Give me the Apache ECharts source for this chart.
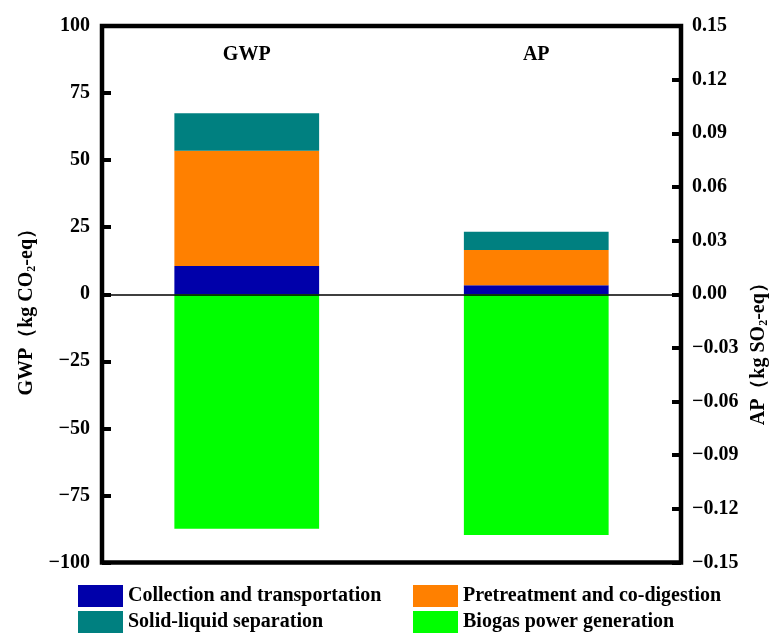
<!DOCTYPE html>
<html>
<head>
<meta charset="utf-8">
<script src="https://cdn.jsdelivr.net/npm/echarts@6/dist/echarts.min.js"></script>
<style>html,body{margin:0;padding:0;background:#fff}#c{width:772px;height:633px}</style>
</head>
<body>
<div id="c"></div>
<script>
var categories = ['GWP', 'AP'];
var seriesNames = ['Collection and transportation', 'Pretreatment and co-digestion', 'Solid-liquid separation', 'Biogas power generation'];
var colors = ['#0000AA', '#FF8000', '#008080', '#00FF00'];
var gwpValues = [10.5, 43.0, 14.0, -87.4];
var apValues = [0.005, 0.0197, 0.0103, -0.1346];
var gwpTicks = { min: -100, max: 100, interval: 25 };
var apTicks = { min: -0.15, max: 0.15, interval: 0.03 };

var FONT = '"Liberation Serif", "Times New Roman", serif';
function minus(s) { return String(s).replace('-', '\u2212'); }

var series = [];
seriesNames.forEach(function (n, i) {
  series.push({
    name: n, type: 'bar', xAxisIndex: 0, yAxisIndex: 0, stack: 'gwp',
    barWidth: '50%', itemStyle: { color: colors[i] },
    data: [gwpValues[i], '-']
  });
  series.push({
    name: n, type: 'bar', xAxisIndex: 1, yAxisIndex: 1, stack: 'ap',
    barWidth: '50%', itemStyle: { color: colors[i] },
    data: ['-', apValues[i]]
  });
});

var chart = echarts.init(document.getElementById('c'));
var legendCommon = {
  orient: 'vertical', top: 585, height: 80, itemWidth: 45, itemHeight: 22, itemGap: 4,
  icon: 'rect', padding: 0,
  textStyle: { fontFamily: FONT, fontWeight: 'bold', fontSize: 20, color: '#000' }
};
chart.setOption({
  animation: false,
  textStyle: { fontFamily: FONT },
  grid: { left: 102, right: 91, top: 26, bottom: 70.5, outerBoundsMode: 'none', containLabel: false,
    show: true, borderColor: '#000', borderWidth: 4.5, backgroundColor: 'transparent' },
  legend: [
    Object.assign({ left: 78, data: [seriesNames[0], seriesNames[2]] }, legendCommon),
    Object.assign({ left: 413, data: [seriesNames[1], seriesNames[3]] }, legendCommon)
  ],
  xAxis: [
    { type: 'category', data: categories, position: 'bottom', z: 10,
      axisLine: { show: true, onZero: true, lineStyle: { color: '#000', width: 1.5 } },
      axisTick: { show: false }, axisLabel: { show: false }, splitLine: { show: false } },
    { type: 'category', data: categories, position: 'top',
      axisLine: { show: false, onZero: false }, axisTick: { show: false }, splitLine: { show: false },
      axisLabel: { show: true, inside: true, margin: 19, fontFamily: FONT, fontWeight: 'bold', fontSize: 20, color: '#000' } }
  ],
  yAxis: [
    { type: 'value', position: 'left', min: gwpTicks.min, max: gwpTicks.max, interval: gwpTicks.interval,
      name: 'GWP\uFF08kg CO{sub|2}-eq\uFF09', nameLocation: 'middle', nameGap: 64, nameRotate: 90,
      nameTextStyle: { fontFamily: FONT, fontWeight: 'bold', fontSize: 20, color: '#000', padding: [0, 26, 0, 0],
        rich: { sub: { fontFamily: FONT, fontWeight: 'bold', fontSize: 12, padding: [10, 0, 0, 0], color: '#000' } } },
      axisLine: { show: false }, splitLine: { show: false },
      axisTick: { show: true, inside: true, length: 9, lineStyle: { color: '#000', width: 4 } },
      axisLabel: { margin: 12, fontFamily: FONT, fontWeight: 'bold', fontSize: 20, color: '#000', formatter: function (v) { return minus(v); } } },
    { type: 'value', position: 'right', min: apTicks.min, max: apTicks.max, interval: apTicks.interval,
      name: 'AP\uFF08kg SO{sub|2}-eq\uFF09', nameLocation: 'middle', nameGap: 65, nameRotate: 90,
      nameTextStyle: { fontFamily: FONT, fontWeight: 'bold', fontSize: 20, color: '#000', padding: [0, 110, 0, 0],
        rich: { sub: { fontFamily: FONT, fontWeight: 'bold', fontSize: 12, padding: [10, 0, 0, 0], color: '#000' } } },
      axisLine: { show: false }, splitLine: { show: false },
      axisTick: { show: true, inside: true, length: 9, lineStyle: { color: '#000', width: 4 } },
      axisLabel: { margin: 11, fontFamily: FONT, fontWeight: 'bold', fontSize: 20, color: '#000', formatter: function (v) { return minus(v.toFixed(2)); } } }
  ],
  series: series
});
</script>
</body>
</html>
